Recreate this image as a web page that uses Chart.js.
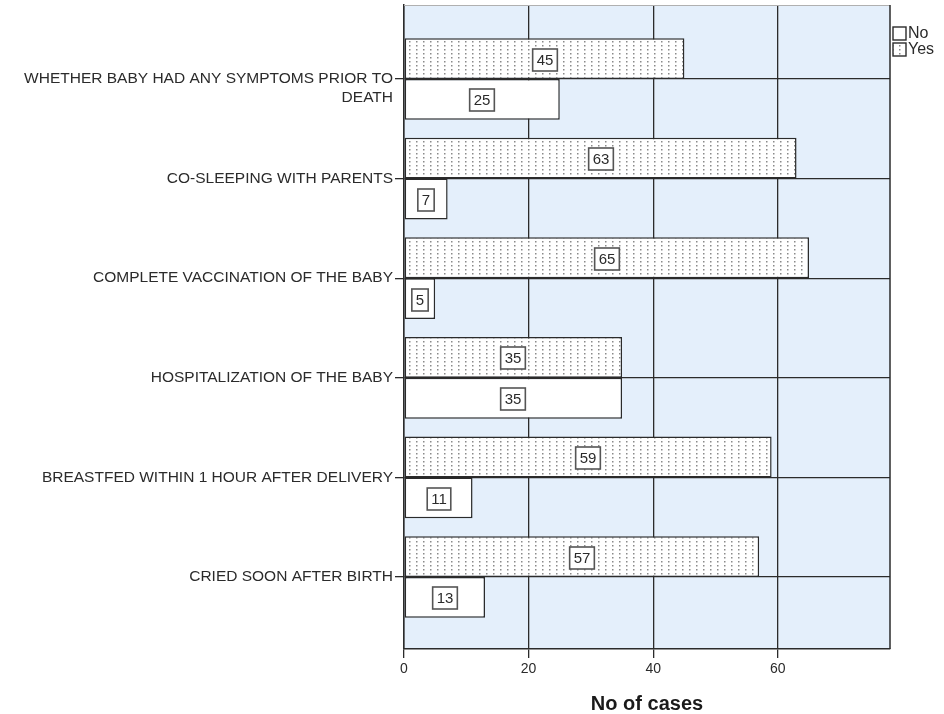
<!DOCTYPE html>
<html>
<head>
<meta charset="utf-8">
<script src="https://cdn.jsdelivr.net/npm/chart.js@4"></script>
<style>
    html, body { margin: 0; padding: 0; background: #fff; }
</style>
</head>
<body>
<canvas id="chart" width="944" height="714"></canvas>
<script>
// Categories, top to bottom (first one wraps like the original)
const categories = [
    ['', 'WHETHER BABY HAD ANY SYMPTOMS PRIOR TO', 'DEATH'],
    'CO-SLEEPING WITH PARENTS',
    'COMPLETE VACCINATION OF THE BABY',
    'HOSPITALIZATION OF THE BABY',
    'BREASTFED WITHIN 1 HOUR AFTER DELIVERY',
    'CRIED SOON AFTER BIRTH'
];
const yesCounts = [45, 63, 65, 35, 59, 57];
const noCounts = [25, 7, 5, 35, 11, 13];
const xTicks = [0, 20, 40, 60];

const FONT = '"Liberation Sans", Arial, sans-serif';
const INK = '#2b2b2b';

// Dotted fill used by the "Yes" bars
function makeDots() {
    const pc = document.createElement('canvas');
    pc.width = 7;
    pc.height = 4;
    const g = pc.getContext('2d');
    g.fillStyle = '#fff';
    g.fillRect(0, 0, 7, 4);
    g.fillStyle = '#8a8a8a';
    g.fillRect(3, 1, 1.5, 1.5);
    return g.createPattern(pc, 'repeat');
}
const dots = makeDots();

const toPoints = (arr) => arr.map((v, i) => ({ x: v, y: i }));

// Light blue plot area + frame
const plotFrame = {
    id: 'plotFrame',
    beforeDraw(chart) {
        const { ctx, chartArea: a } = chart;
        ctx.save();
        ctx.fillStyle = '#e4effb';
        ctx.fillRect(a.left, a.top, a.right - a.left, a.bottom - a.top);
        ctx.restore();
    },
    afterDatasetsDraw(chart) {
        const { ctx, chartArea: a } = chart;
        ctx.save();
        ctx.lineWidth = 1;
        ctx.strokeStyle = '#b0b0b0';
        ctx.beginPath();
        ctx.moveTo(a.left, a.top + 0.5);
        ctx.lineTo(a.right, a.top + 0.5);
        ctx.stroke();
        ctx.lineWidth = 1.5;
        ctx.strokeStyle = INK;
        ctx.beginPath();
        ctx.moveTo(a.right, a.top);
        ctx.lineTo(a.right, a.bottom);
        ctx.stroke();
        ctx.restore();
    }
};

// Boxed value in the middle of every bar
const boxedLabels = {
    id: 'boxedLabels',
    afterDatasetsDraw(chart) {
        const ctx = chart.ctx;
        ctx.save();
        ctx.font = '15px ' + FONT;
        ctx.textAlign = 'center';
        ctx.textBaseline = 'middle';
        chart.data.datasets.forEach((ds, di) => {
            const meta = chart.getDatasetMeta(di);
            meta.data.forEach((bar, i) => {
                const { x, y, base } = bar.getProps(['x', 'y', 'base'], true);
                const cx = Math.round((x + base) / 2);
                const cy = Math.round(y) + 1;
                const text = String(ds.data[i].x);
                const w = ctx.measureText(text).width + 8;
                const h = 22;
                ctx.fillStyle = '#fff';
                ctx.fillRect(cx - w / 2, cy - h / 2, w, h);
                ctx.lineWidth = 1.6;
                ctx.strokeStyle = '#555';
                ctx.strokeRect(cx - w / 2, cy - h / 2, w, h);
                ctx.fillStyle = INK;
                ctx.fillText(text, cx, cy + 1);
            });
        });
        ctx.restore();
    }
};

// Small legend outside the top right corner (No above Yes)
const sideLegend = {
    id: 'sideLegend',
    afterDraw(chart) {
        const { ctx, chartArea: a } = chart;
        const items = chart.data.datasets.slice().reverse();
        ctx.save();
        ctx.font = '16px ' + FONT;
        ctx.textBaseline = 'middle';
        items.forEach((ds, k) => {
            const bx = a.right + 3;
            const by = 27 + k * 16;
            ctx.fillStyle = ds.backgroundColor;
            ctx.fillRect(bx, by, 13, 13);
            ctx.lineWidth = 1.4;
            ctx.strokeStyle = INK;
            ctx.strokeRect(bx, by, 13, 13);
            ctx.fillStyle = INK;
            ctx.fillText(ds.label, bx + 15, by + 7);
        });
        ctx.restore();
    }
};

new Chart(document.getElementById('chart'), {
    type: 'bar',
    data: {
        datasets: [
            {
                label: 'Yes',
                data: toPoints(yesCounts),
                backgroundColor: dots,
                borderColor: INK,
                borderWidth: 1.5,
                borderSkipped: false
            },
            {
                label: 'No',
                data: toPoints(noCounts),
                backgroundColor: '#fff',
                borderColor: INK,
                borderWidth: 1.5,
                borderSkipped: false
            }
        ]
    },
    options: {
        responsive: false,
        animation: false,
        indexAxis: 'y',
        barPercentage: 1,
        categoryPercentage: 0.82,
        layout: { padding: { top: 5, right: 54, bottom: 0, left: 0 } },
        plugins: {
            legend: { display: false },
            tooltip: { enabled: false }
        },
        scales: {
            x: {
                type: 'linear',
                min: 0,
                max: 78,
                afterBuildTicks: (scale) => {
                    scale.ticks = xTicks.map(v => ({ value: v }));
                },
                afterFit: (scale) => { scale.height = 65; },
                ticks: {
                    autoSkip: false,
                    maxRotation: 0,
                    padding: 3,
                    color: INK,
                    font: { family: FONT, size: 14 }
                },
                grid: { color: INK, lineWidth: 1.3, tickLength: 9 },
                border: { color: INK, width: 1.5 },
                title: {
                    display: true,
                    text: 'No of cases',
                    color: '#1a1a1a',
                    padding: { top: 0, bottom: 0 },
                    font: { family: FONT, size: 20, weight: 'bold', lineHeight: 1 }
                }
            },
            y: {
                type: 'linear',
                reverse: true,
                offset: false,
                min: -0.743,
                max: 5.723,
                afterBuildTicks: (scale) => {
                    scale.ticks = categories.map((_, i) => ({ value: i }));
                },
                afterFit: (scale) => {
                    scale.width = 404;
                    scale.paddingTop = 0;
                    scale.paddingBottom = 0;
                },
                ticks: {
                    autoSkip: false,
                    padding: 2,
                    color: INK,
                    font: { family: FONT, size: 15.5 },
                    callback: (value) => categories[value]
                },
                grid: { offset: false, color: INK, lineWidth: 1.3, tickLength: 9 },
                border: { color: INK, width: 1.5 }
            }
        }
    },
    plugins: [plotFrame, boxedLabels, sideLegend]
});
</script>
</body>
</html>
